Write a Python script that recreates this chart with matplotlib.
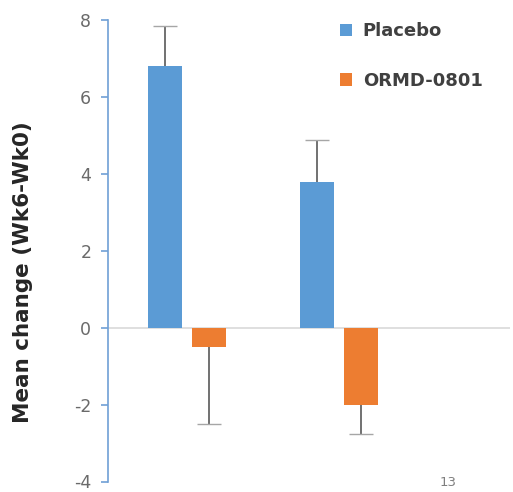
import matplotlib
matplotlib.use("Agg")
import matplotlib.pyplot as plt
import numpy as np

plt.rcParams["axes.unicode_minus"] = False

groups = [0, 1]
series = ["Placebo", "ORMD-0801"]
placebo = [6.8, 3.8]
placebo_err = [1.05, 1.08]
ormd = [-0.5, -2.0]
ormd_err = [2.0, 0.77]
colors = ["#5b9bd5", "#ed7d31"]
yticks = [-4, -2, 0, 2, 4, 6, 8]

fig = plt.figure(figsize=(5.13, 4.92), dpi=100)
ax = fig.add_axes([108/513, 1-481.5/492, (510-108)/513, (481.5-20)/492])

x = np.array(groups, dtype=float)
w = 34/152
off = 22/152
cap = 12/152
errc = "#595959"
b1 = ax.bar(x - off, placebo, w, color=colors[0], label=series[0], zorder=2)
b2 = ax.bar(x + off, ormd, w, color=colors[1], label=series[1], zorder=2)

p = np.array(placebo); pe = np.array(placebo_err)
o = np.array(ormd); oe = np.array(ormd_err)
ax.vlines(x - off, p, p + pe, color=errc, lw=1.2, zorder=3)
ax.hlines(p + pe, x - off - cap, x - off + cap, color="#a6a6a6", lw=1.0, zorder=3)
ax.vlines(x + off, o - oe, o, color=errc, lw=1.2, zorder=3)
ax.hlines(o - oe, x + off - cap, x + off + cap, color="#a6a6a6", lw=1.0, zorder=3)

ax.axhline(0, color="#d9d9d9", lw=1.2, zorder=1)
ax.set_xlim(-79/152, 323/152)
ax.set_ylim(-4, 8)
ax.set_yticks(yticks)
ax.set_xticks([])
for s in ["top", "right", "bottom"]:
    ax.spines[s].set_visible(False)
ax.spines["left"].set_color("#6fa0d6")
ax.spines["left"].set_linewidth(1.2)
ax.tick_params(axis="y", colors="#6fa0d6", length=5, width=1.2, labelsize=12.5,
               labelcolor="#6a6a6a", pad=7)
ax.set_ylabel("Mean change (Wk6-Wk0)", fontsize=15.5, fontweight="bold",
              color="#262626", labelpad=4)
ax.yaxis.set_label_coords(-(108-33)/402, (481.5-272)/461.5)

leg = ax.legend(handles=[b1, b2], labels=series, loc="upper left",
                bbox_to_anchor=(324/513, 1-6/492), bbox_transform=fig.transFigure,
                frameon=False, handlelength=0.65, handleheight=0.65,
                handletextpad=0.6, labelspacing=1.75,
                prop={"weight": "bold", "size": 13})
for t in leg.get_texts():
    t.set_color("#404040")

fig.text(448/513, 1-482/492, "13", ha="center", va="center", fontsize=9.5,
         color="#7f7f7f")

fig.savefig("out.png", dpi=100)
